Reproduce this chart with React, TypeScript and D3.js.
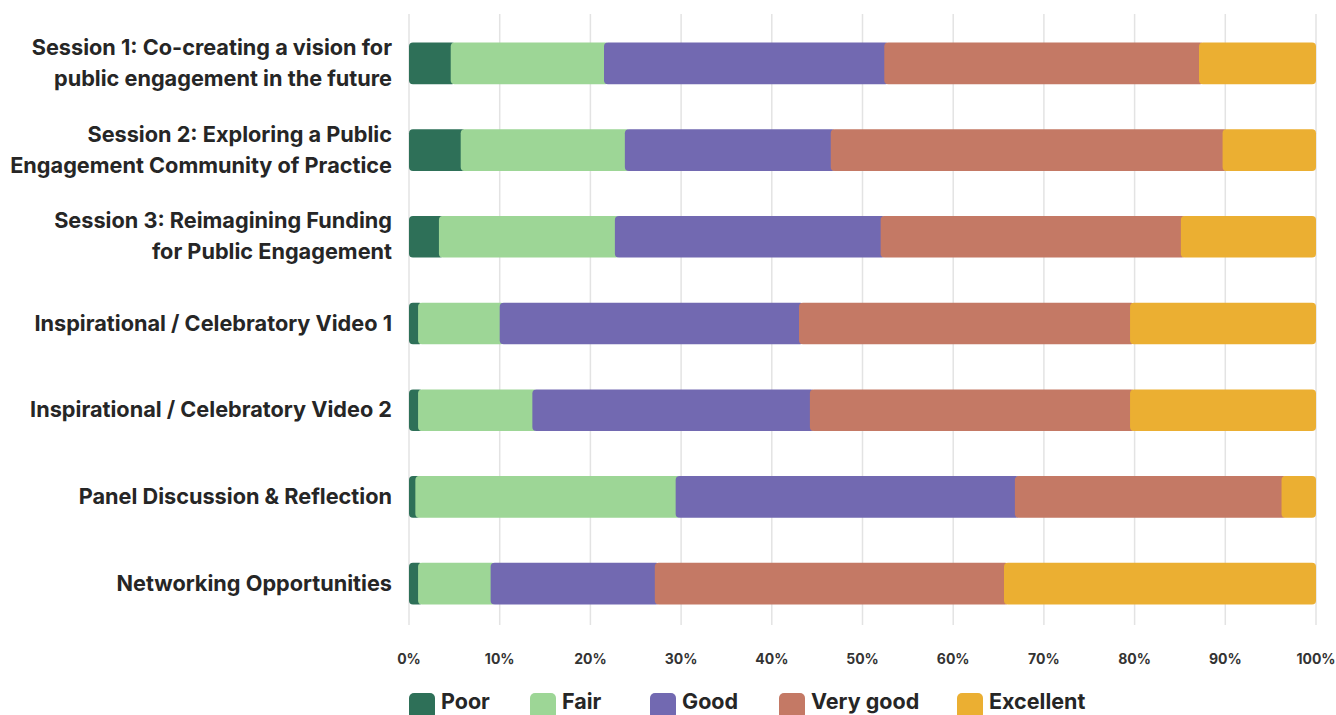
import React, { useEffect, useRef } from "react";
import * as d3 from "d3";

const categories: string[][] = [
  ["Session 1: Co-creating a vision for", "public engagement in the future"],
  ["Session 2: Exploring a Public", "Engagement Community of Practice"],
  ["Session 3: Reimagining Funding", "for Public Engagement"],
  ["Inspirational / Celebratory Video 1"],
  ["Inspirational / Celebratory Video 2"],
  ["Panel Discussion & Reflection"],
  ["Networking Opportunities"],
];

const seriesNames = ["Poor", "Fair", "Good", "Very good", "Excellent"];

const poor = [4.6, 5.7, 3.3, 1.0, 1.0, 0.7, 1.0];
const fair = [16.9, 18.1, 19.4, 9.0, 12.6, 28.7, 8.0];
const good = [30.9, 22.7, 29.3, 33.0, 30.6, 37.4, 18.1];
const veryGood = [34.7, 43.2, 33.1, 36.5, 35.3, 29.4, 38.5];
const excellent = [12.9, 10.3, 14.9, 20.5, 20.5, 3.8, 34.4];

const tickValues = [0, 10, 20, 30, 40, 50, 60, 70, 80, 90, 100];

const colors = ["#2E7058", "#9DD696", "#7269B1", "#C47965", "#EBAF32"];
const legendX = [409, 530, 650, 779, 957];

const W = 1336;
const H = 715;
const FONT = "Inter, 'Open Sans', sans-serif";

export default function App() {
  const ref = useRef<SVGSVGElement | null>(null);

  useEffect(() => {
    const svg = d3.select(ref.current);
    svg.selectAll("*").remove();

    const rows = categories.map((c, i) => ({
      key: String(i),
      label: c,
      Poor: poor[i],
      Fair: fair[i],
      Good: good[i],
      "Very good": veryGood[i],
      Excellent: excellent[i],
    }));

    const x = d3.scaleLinear().domain([0, 100]).range([409, 1316]);
    const y = d3
      .scaleBand<string>()
      .domain(rows.map((r) => r.key))
      .range([20, 627])
      .paddingInner(0.52)
      .paddingOuter(0.26);

    // gridlines
    svg
      .append("g")
      .selectAll("line")
      .data(tickValues)
      .join("line")
      .attr("x1", (d) => x(d))
      .attr("x2", (d) => x(d))
      .attr("y1", 14)
      .attr("y2", 625)
      .attr("stroke", "#e3e3e3")
      .attr("stroke-width", 1.5);

    const stack = d3.stack<any>().keys(seriesNames);
    const stacked = stack(rows);

    const color = d3.scaleOrdinal<string, string>().domain(seriesNames).range(colors);

    const layers = svg
      .append("g")
      .selectAll("g")
      .data(stacked)
      .join("g")
      .attr("fill", (d) => color(d.key));

    layers
      .selectAll("rect")
      .data((d) => d.map((v) => ({ v, last: d.key === "Excellent" })))
      .join("rect")
      .attr("x", (d) => x(d.v[0]))
      .attr("y", (d) => y((d.v.data as any).key)!)
      .attr("height", y.bandwidth())
      .attr("width", (d) => Math.max(0, x(d.v[1]) - x(d.v[0]) + (d.last ? 0 : 5)))
      .attr("rx", 4)
      .attr("ry", 4);

    // category labels
    const lab = svg
      .append("g")
      .selectAll("text")
      .data(rows)
      .join("text")
      .attr("text-anchor", "end")
      .attr("font-family", FONT)
      .attr("font-weight", 700)
      .attr("font-size", 21.7)
      .attr("fill", "#262626")
      .attr("transform", (d) => `translate(392,${y(d.key)! + y.bandwidth() / 2})`);

    lab
      .selectAll("tspan")
      .data((d) =>
        d.label.map((t, j) => ({ t, dy: (j - (d.label.length - 1) / 2) * 31 }))
      )
      .join("tspan")
      .attr("x", 0)
      .attr("y", (d) => d.dy - 1)
      .attr("dominant-baseline", "central")
      .text((d) => d.t);

    // x axis tick labels
    svg
      .append("g")
      .selectAll("text")
      .data(tickValues)
      .join("text")
      .attr("x", (d) => x(d))
      .attr("y", 658)
      .attr("text-anchor", "middle")
      .attr("dominant-baseline", "central")
      .attr("font-family", FONT)
      .attr("font-weight", 700)
      .attr("font-size", 14)
      .attr("fill", "#333")
      .text((d) => `${d}%`);

    // legend
    const legend = svg.append("g");
    seriesNames.forEach((name, i) => {
      const g = legend.append("g").attr("transform", `translate(${legendX[i]},693)`);
      g.append("rect")
        .attr("width", 26)
        .attr("height", 26)
        .attr("rx", 5)
        .attr("fill", colors[i]);
      g.append("text")
        .attr("x", 32)
        .attr("y", 16)
        .attr("font-family", FONT)
        .attr("font-weight", 700)
        .attr("font-size", 21.5)
        .attr("fill", "#262626")
        .text(name);
    });
  }, []);

  return (
    <svg
      ref={ref}
      width={W}
      height={H}
      style={{ position: "absolute", left: 0, top: 0, background: "#fff" }}
    />
  );
}
